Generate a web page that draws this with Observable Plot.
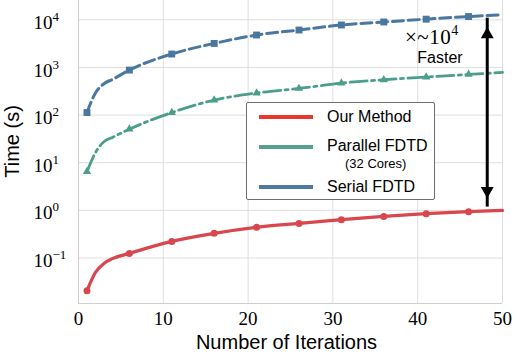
<!DOCTYPE html>
<html><head><meta charset="utf-8">
<script src="https://cdn.jsdelivr.net/npm/d3@7"></script>
<script src="https://cdn.jsdelivr.net/npm/@observablehq/plot@0.6"></script>
<style>
body{margin:0;background:#fff;}
#wrap{position:relative;width:514px;height:356px;overflow:hidden;font-family:"Liberation Sans",Arial,sans-serif;}
#wrap svg{position:absolute;left:0;top:0;}
#legend{position:absolute;left:246px;top:102px;width:189px;height:98px;border:1px solid #6e6e6e;border-radius:2px;background:#fff;box-sizing:border-box;}
.sw{position:absolute;left:12px;width:54px;height:4px;}
.lt{position:absolute;left:80px;font-size:16px;color:#000;white-space:nowrap;line-height:1;}
.ann{position:absolute;white-space:nowrap;line-height:1;color:#000;}
</style></head>
<body>
<div id="wrap"></div>
<script>
// ---- data ----
const xTicks = [0, 10, 20, 30, 40, 50];
const yTicks = [0.1, 1, 10, 100, 1000, 10000];
const iterations = [1, 2, 3, 4, 6, 11, 16, 21, 26, 31, 36, 41, 46, 50];
const ourMethod    = [0.0206, 0.05, 0.077, 0.097, 0.125, 0.223, 0.329, 0.44, 0.533, 0.638, 0.748, 0.853, 0.94, 1.0];
const parallelFDTD = [6.5, 16.3, 27.6, 34, 50.6, 113, 207, 290, 362, 470, 552, 629, 713, 785];
const serialFDTD   = [113, 292, 455, 560, 880, 1910, 3190, 4790, 6100, 7780, 9000, 10300, 11700, 12700];
const seriesNames = ["Our Method", "Parallel FDTD", "Serial FDTD"];
const seriesColors = ["#d8464e", "#4b9e8b", "#4a77a0"];
const legendColors = ["#e8392c", "#56a090", "#4f7aa0"];
const arrowX = [48.2];
const arrowY = [1.81, 7000];
const yDomain = [0.0111, 25400];

const rows = [];
[ourMethod, parallelFDTD, serialFDTD].forEach((vals, si) =>
  vals.forEach((v, i) => rows.push({series: seriesNames[si], n: iterations[i], t: v})));
const marked = rows.filter(d => (d.n - 1) % 5 === 0 && d.n < 50);
const ser = s => d => d.series === s;
const arrowEnds = [{x: arrowX[0], y: arrowY[1]}, {x: arrowX[0], y: arrowY[0]}];

const serif = "'Liberation Serif', 'Times New Roman', serif";
const sans = "'Liberation Sans', Arial, sans-serif";

const plot = Plot.plot({
  width: 514, height: 356,
  marginLeft: 78, marginRight: 12, marginTop: 0, marginBottom: 53,
  style: {background: "transparent", overflow: "visible"},
  x: {domain: [0, 50]},
  y: {type: "log", domain: yDomain},
  marks: [
    Plot.gridX(xTicks, {stroke: "#dedede", strokeOpacity: 1, strokeWidth: 1}),
    Plot.gridY(yTicks, {stroke: "#dedede", strokeOpacity: 1, strokeWidth: 1}),
    Plot.ruleX([0], {stroke: "#cfcfcf", strokeWidth: 1}),
    Plot.ruleY([yDomain[0]], {stroke: "#cfcfcf", strokeWidth: 1}),
    Plot.axisX(xTicks, {tickSize: 0, tickPadding: 8, fontSize: 19, fontFamily: serif, label: null, tickFormat: d => String(d)}),
    Plot.axisY(yTicks, {tickSize: 0, tickPadding: 45, textAnchor: "start", dy: 3, fontSize: 19, fontFamily: serif, label: null,
      tickFormat: d => "10^" + Math.round(Math.log10(d))}),
    Plot.text(["Number of Iterations"], {frameAnchor: "bottom", lineAnchor: "middle", textAnchor: "middle", dy: 38.6, dx: -4, fontSize: 20, fontFamily: sans, fill: "#000"}),
    Plot.text(["Time (s)"], {frameAnchor: "left", lineAnchor: "middle", textAnchor: "middle", rotate: -90, dx: -66, dy: -10.5, fontSize: 20, fontFamily: sans, fill: "#000"}),
    Plot.line(rows, {filter: ser("Serial FDTD"), x: "n", y: "t", stroke: seriesColors[2], strokeWidth: 3, strokeDasharray: "11,4.8", curve: "monotone-x"}),
    Plot.line(rows, {filter: ser("Parallel FDTD"), x: "n", y: "t", stroke: seriesColors[1], strokeWidth: 2.8, strokeDasharray: "17,4.5,3,4.5", curve: "monotone-x"}),
    Plot.line(rows, {filter: ser("Our Method"), x: "n", y: "t", stroke: seriesColors[0], strokeWidth: 3.2, curve: "monotone-x"}),
    Plot.dot(marked, {filter: ser("Serial FDTD"), x: "n", y: "t", symbol: "square", r: 3.9, fill: seriesColors[2]}),
    Plot.dot(marked, {filter: ser("Parallel FDTD"), x: "n", y: "t", symbol: "triangle", r: 3.1, fill: seriesColors[1]}),
    Plot.dot(marked, {filter: ser("Our Method"), x: "n", y: "t", r: 3.5, fill: seriesColors[0]}),
    Plot.ruleX(arrowX, {y1: arrowY[0], y2: arrowY[1], stroke: "#000", strokeWidth: 3, insetTop: 9, insetBottom: 9}),
    Plot.dot(arrowEnds.slice(0, 1), {x: "x", y: "y", symbol: "triangle", rotate: 0, r: 4.8, fill: "#000", dy: 7.4}),
    Plot.dot(arrowEnds.slice(1), {x: "x", y: "y", symbol: "triangle", rotate: 180, r: 4.8, fill: "#000", dy: -7.4})
  ]
});

// superscript exponents on the y tick labels
plot.querySelectorAll('g[aria-label="y-axis tick label"] text').forEach(t => {
  const m = /^10\^(-?\d+)$/.exec(t.textContent);
  if (!m) return;
  t.textContent = "10";
  const ts = document.createElementNS("http://www.w3.org/2000/svg", "tspan");
  ts.setAttribute("dy", "-8");
  ts.setAttribute("font-size", "13");
  ts.textContent = m[1].replace("-", "\u2212");
  t.appendChild(ts);
});

const wrap = document.getElementById("wrap");
wrap.appendChild(plot);

// legend
const lg = document.createElement("div");
lg.id = "legend";
const swTops = [12, 42, 82];
const txtTops = [6, 35, 75.5];
seriesNames.forEach((s, i) => {
  const sw = document.createElement("div");
  sw.className = "sw"; sw.style.top = swTops[i] + "px"; sw.style.background = legendColors[i];
  lg.appendChild(sw);
  const tx = document.createElement("div");
  tx.className = "lt"; tx.style.top = txtTops[i] + "px"; tx.textContent = s;
  lg.appendChild(tx);
});
const sub = document.createElement("div");
sub.className = "lt"; sub.style.left = "98px"; sub.style.top = "54px"; sub.style.fontSize = "13px";
sub.textContent = "(32 Cores)";
lg.appendChild(sub);
wrap.appendChild(lg);

// annotation
const a1 = document.createElement("div");
a1.className = "ann";
a1.style.left = "405px"; a1.style.top = "27px"; a1.style.fontSize = "21px"; a1.style.fontFamily = serif;
a1.style.letterSpacing = "0.5px";
a1.innerHTML = "×~10<span style=\"font-size:14px;position:relative;top:-9px\">4</span>";
wrap.appendChild(a1);
const a2 = document.createElement("div");
a2.className = "ann";
a2.style.left = "440px"; a2.style.top = "49.5px"; a2.style.fontSize = "16px"; a2.style.fontFamily = sans;
a2.style.transform = "translateX(-50%)";
a2.textContent = "Faster";
wrap.appendChild(a2);
</script>
</body></html>
